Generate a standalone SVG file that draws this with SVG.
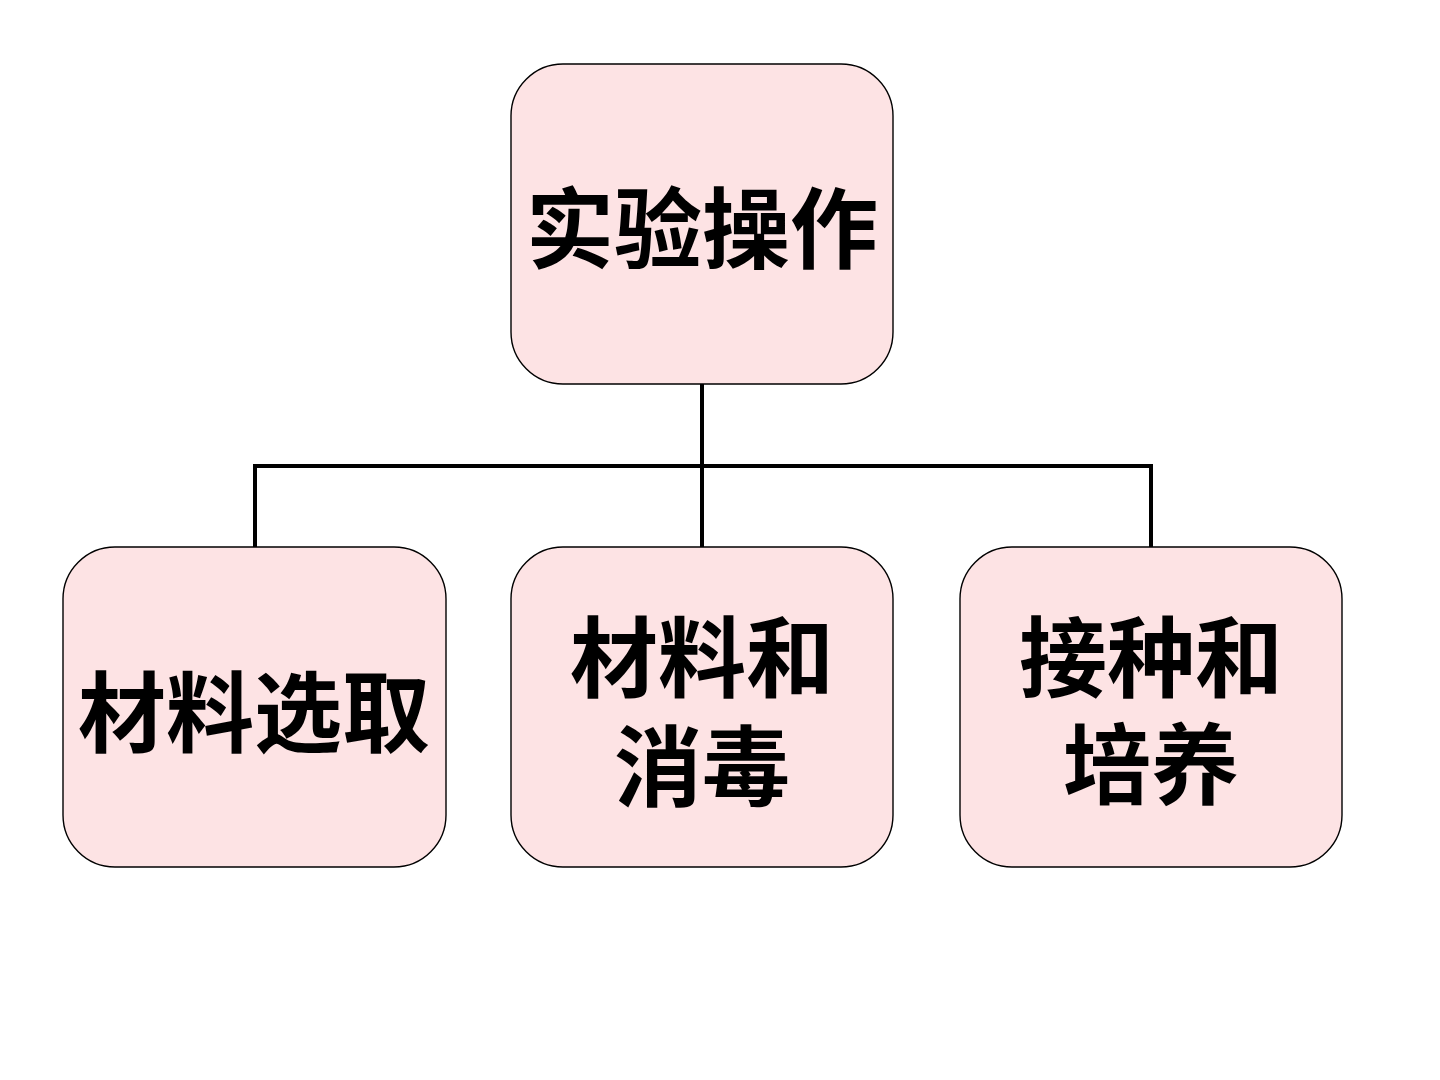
<svg xmlns="http://www.w3.org/2000/svg" width="1440" height="1080" viewBox="0 0 1440 1080">
<style>
.box{fill:#FDE3E4;stroke:#000;stroke-width:1.4}
.lbl{font-family:"Noto Sans CJK SC","Noto Sans CJK TC",sans-serif;font-size:88px;font-weight:700;fill:#000;text-anchor:middle}
.conn{fill:none;stroke:#000;stroke-width:4}
</style>
<rect width="1440" height="1080" fill="#fff"/>
<g id="connectors">
<path class="conn" d="M702 384V466M255 547V466H1151V547M702 466V547"/>
</g>
<g id="node-top">
<rect class="box" x="511" y="64" width="382" height="320" rx="52"/>
<text class="lbl" x="702" y="261">实验操作</text>
</g>
<g id="node-1">
<rect class="box" x="63" y="547" width="383" height="320" rx="52"/>
<text class="lbl" x="254" y="745">材料选取</text>
</g>
<g id="node-2">
<rect class="box" x="511" y="547" width="382" height="320" rx="52"/>
<text class="lbl"><tspan x="702" y="690">材料和</tspan><tspan x="702" y="799">消毒</tspan></text>
</g>
<g id="node-3">
<rect class="box" x="960" y="547" width="382" height="320" rx="52"/>
<text class="lbl"><tspan x="1151" y="690">接种和</tspan><tspan x="1151" y="797">培养</tspan></text>
</g>
</svg>
